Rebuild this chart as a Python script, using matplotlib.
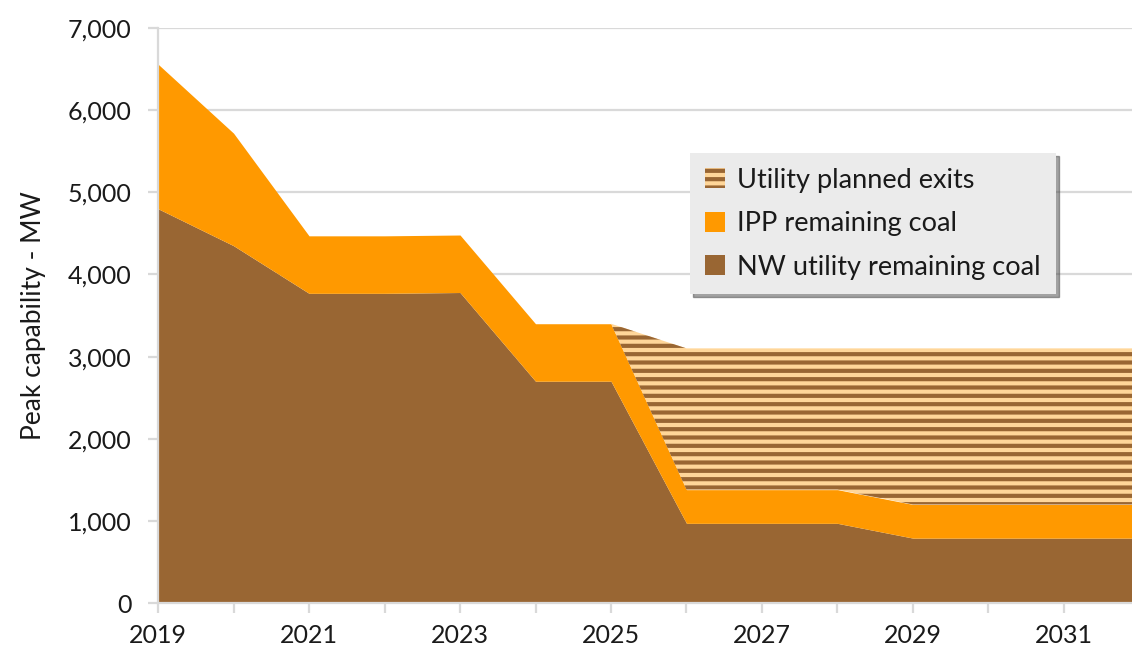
import numpy as np
import matplotlib.pyplot as plt
from matplotlib.patches import Patch
from matplotlib.ticker import FuncFormatter, MultipleLocator

# 年ごとの値 (MW)
years = [2019, 2020, 2021, 2022, 2023, 2024, 2025, 2026, 2027, 2028, 2029, 2030, 2031, 2032]
nw_utility = [4800, 4350, 3770, 3770, 3780, 2700, 2700, 970, 970, 970, 790, 790, 790, 790]
ipp = [1760, 1370, 700, 700, 700, 700, 700, 410, 410, 410, 410, 410, 410, 410]
exits = [0, 0, 0, 0, 0, 0, 0, 1720, 1720, 1720, 1900, 1900, 1900, 1900]

BROWN = '#996633'
ORANGE = '#FF9900'
PEACH = '#FFD699'

plt.rcParams['font.family'] = ['Lato', 'DejaVu Sans']
plt.rcParams['hatch.linewidth'] = 3.0

x = np.array(years)
b1 = np.array(nw_utility)
b2 = b1 + np.array(ipp)
b3 = b2 + np.array(exits)

fig = plt.figure(figsize=(11.32, 6.48), dpi=100)
ax = fig.add_axes([0.1396, 0.0694, 0.867, 0.8874])

ax.fill_between(x, 0, b1, color=BROWN, lw=0, zorder=2)
ax.fill_between(x, b1, b2, color=ORANGE, lw=0, zorder=2)
ax.fill_between(x, b2, b3, facecolor=PEACH, edgecolor=BROWN, hatch='--', lw=0, zorder=2)

ax.set_xlim(2019, 2032)
ax.set_ylim(0, 7000)
ax.yaxis.set_major_locator(MultipleLocator(1000))
ax.yaxis.set_major_formatter(FuncFormatter(lambda v, p: '{:,.0f}'.format(v)))
ax.set_xticks(range(2019, 2033, 2))
ax.set_xticks(range(2019, 2033), minor=True)

ax.grid(axis='y', color='#D9D9D9', lw=1.6, zorder=0)
ax.set_axisbelow(True)
for s in ['top', 'right']:
    ax.spines[s].set_visible(False)
for s in ['left', 'bottom']:
    ax.spines[s].set_color('#D9D9D9')
    ax.spines[s].set_linewidth(1.6)

ax.tick_params(axis='y', which='major', length=7, width=1.6, color='#D9D9D9',
               labelsize=18, labelcolor='#1a1a1a', pad=12)
ax.tick_params(axis='x', which='both', length=7, width=1.6, color='#D9D9D9',
               labelsize=18, labelcolor='#1a1a1a', pad=8)

ax.set_ylabel('Peak capability - MW', fontsize=19, color='#1a1a1a', labelpad=16)

handles = [
    Patch(facecolor=PEACH, edgecolor=BROWN, hatch='--', lw=0, label='Utility planned exits'),
    Patch(facecolor=ORANGE, lw=0, label='IPP remaining coal'),
    Patch(facecolor=BROWN, lw=0, label='NW utility remaining coal'),
]
leg = ax.legend(handles=handles, loc='upper left', bbox_to_anchor=(0.542, 0.783),
                borderaxespad=0, fontsize=19.5, frameon=True, fancybox=False, shadow=True,
                handlelength=0.75, handleheight=0.75, handletextpad=0.45,
                labelspacing=0.68, borderpad=0.55, facecolor='#EBEBEB', edgecolor='none')
leg.get_frame().set_alpha(1)
for t in leg.get_texts():
    t.set_color('#1a1a1a')

fig.savefig('out.png', dpi=100)
